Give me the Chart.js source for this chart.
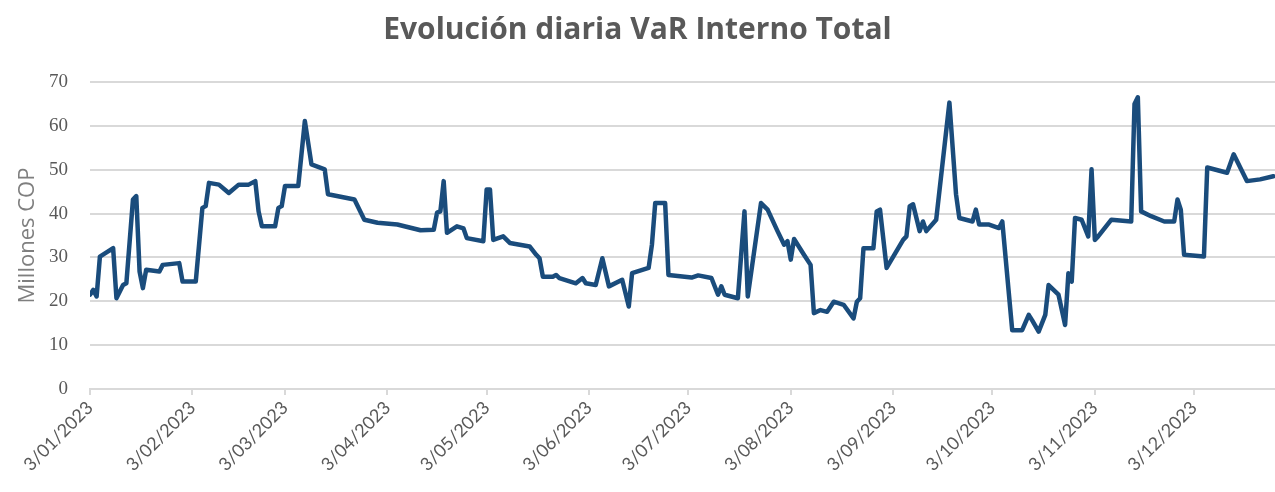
<!DOCTYPE html>
<html lang="es">
<head>
<meta charset="utf-8">
<title>Evolución diaria VaR Interno Total</title>
<script src="https://cdn.jsdelivr.net/npm/chart.js@4.4.0/dist/chart.umd.min.js"></script>
<style>
    html, body { margin: 0; padding: 0; background: #ffffff; }
    #wrap { width: 1275px; height: 492px; }
</style>
</head>
<body>
<div id="wrap"><canvas id="varChart"></canvas></div>
<script>
// ── Datos ────────────────────────────────────────────────────
// Días transcurridos desde el 3/01/2023 y VaR (millones COP)
const dias = [
    0, 1, 2, 3, 7, 8, 10, 11, 13, 14, 15, 16, 17, 21, 22, 27, 28, 32, 34, 35,
    36, 39, 42, 45, 48, 50, 51, 52, 56, 57, 58, 59, 63, 65, 67, 71, 72, 80, 83, 87,
    93, 100, 104, 105, 106, 107, 108, 111, 113, 114, 119, 120, 121, 122, 125, 127, 133, 135, 136, 137,
    140, 141, 142, 147, 149, 150, 153, 155, 157, 161, 163, 164, 169, 170, 171, 174, 175, 182, 184, 188,
    190, 191, 192, 196, 198, 199, 203, 205, 208, 210, 211, 212, 213, 216, 218, 219, 221, 223, 225, 228,
    231, 232, 233, 234, 237, 238, 239, 241, 246, 247, 248, 249, 251, 252, 253, 256, 260, 262, 263, 267,
    268, 269, 272, 275, 276, 279, 282, 284, 285, 287, 289, 290, 293, 295, 296, 297, 298, 300, 302, 303,
    304, 305, 309, 315, 316, 317, 318, 321, 325, 328, 329, 330, 331, 337, 338, 344, 346, 350, 354, 358
];
const varInterno = [
    21.5, 22.6, 21.1, 30.2, 32.1, 20.7, 23.7, 24.1, 43.2, 44.0, 26.8, 23.0, 27.2, 26.8, 28.3, 28.7, 24.5, 24.5, 41.3, 41.7,
    47.0, 46.6, 44.7, 46.6, 46.6, 47.4, 40.5, 37.1, 37.1, 41.3, 41.7, 46.3, 46.3, 61.1, 51.2, 50.1, 44.4, 43.2, 38.6, 37.9,
    37.5, 36.2, 36.3, 40.2, 40.5, 47.4, 35.6, 37.1, 36.6, 34.4, 33.7, 45.5, 45.5, 34.0, 34.8, 33.3, 32.5, 30.6, 29.8, 25.6,
    25.6, 26.0, 25.3, 24.1, 25.3, 24.1, 23.7, 29.8, 23.4, 24.9, 18.8, 26.4, 27.6, 32.9, 42.4, 42.4, 26.0, 25.4, 25.9, 25.3,
    21.5, 23.4, 21.5, 20.7, 40.5, 21.1, 42.4, 40.9, 36.0, 32.9, 33.7, 29.5, 34.2, 30.6, 28.3, 17.3, 18.0, 17.6, 19.9, 19.2,
    16.1, 19.9, 20.7, 32.1, 32.1, 40.5, 40.9, 27.6, 34.0, 34.8, 41.7, 42.1, 36.0, 38.2, 36.0, 38.6, 65.3, 44.4, 39.0, 38.2,
    40.9, 37.5, 37.5, 36.7, 38.2, 13.4, 13.4, 16.9, 15.7, 13.1, 16.9, 23.7, 21.5, 14.6, 26.4, 24.5, 39.0, 38.6, 34.8, 50.1,
    34.0, 34.8, 38.6, 38.2, 65.0, 66.5, 40.5, 39.4, 38.2, 38.2, 43.2, 40.9, 30.6, 30.2, 50.5, 49.3, 53.5, 47.4, 47.8, 48.5
];

// Marcas del eje X (día 3 de cada mes)
const diasMes = [0, 31, 59, 90, 120, 151, 181, 212, 243, 273, 304, 334];
const etiquetasMes = [
    '3/01/2023', '3/02/2023', '3/03/2023', '3/04/2023', '3/05/2023', '3/06/2023',
    '3/07/2023', '3/08/2023', '3/09/2023', '3/10/2023', '3/11/2023', '3/12/2023'
];
const ticksY = [0, 10, 20, 30, 40, 50, 60, 70];

const GRIS_TEXTO = '#595959';
const GRIS_GRID  = '#d9d9d9';

// ── Gráfico ──────────────────────────────────────────────────
new Chart(document.getElementById('varChart'), {
    type: 'line',
    data: {
        datasets: [{
            label: 'VaR Interno Total',
            data: dias.map((d, i) => ({ x: d, y: varInterno[i] })),
            borderColor: '#1a4c7c',
            borderWidth: 4.5,
            pointRadius: 0,
            tension: 0,
            borderJoinStyle: 'round',
            borderCapStyle: 'round'
        }]
    },
    options: {
        responsive: true,
        maintainAspectRatio: false,
        animation: false,
        layout: { padding: { left: 0, right: 0, top: 0, bottom: 0 } },
        plugins: {
            legend: { display: false },
            tooltip: { enabled: false },
            title: {
                display: true,
                text: 'Evolución diaria VaR Interno Total',
                color: GRIS_TEXTO,
                font: { family: 'Open Sans', size: 30, weight: 'bold' },
                padding: { top: 12, bottom: 34 }
            }
        },
        scales: {
            x: {
                type: 'linear',
                min: 0,
                max: 358.5,
                afterBuildTicks: (scale) => {
                    scale.ticks = diasMes.map(v => ({ value: v }));
                },
                afterFit: (scale) => { scale.height = 103; },
                ticks: {
                    autoSkip: false,
                    minRotation: 45,
                    maxRotation: 45,
                    padding: 2,
                    color: GRIS_TEXTO,
                    font: { family: 'Lato', size: 18 },
                    callback: (v) => etiquetasMes[diasMes.indexOf(v)]
                },
                grid: {
                    drawOnChartArea: false,
                    color: GRIS_GRID,
                    lineWidth: 2,
                    tickLength: 6
                },
                border: { display: true, color: GRIS_GRID, width: 2 }
            },
            y: {
                min: 0,
                max: 70,
                afterBuildTicks: (scale) => {
                    scale.ticks = ticksY.map(v => ({ value: v }));
                },
                afterFit: (scale) => { scale.width = 90; },
                ticks: {
                    padding: 22,
                    color: GRIS_TEXTO,
                    font: { family: 'Liberation Sans Narrow', size: 19 }
                },
                grid: {
                    color: GRIS_GRID,
                    lineWidth: 2,
                    drawTicks: false
                },
                border: { display: false },
                title: {
                    display: true,
                    text: 'Millones COP',
                    color: '#7f7f7f',
                    font: { family: 'Open Sans', size: 22 },
                    padding: { top: 15, bottom: 0 }
                }
            }
        }
    }
});
</script>
</body>
</html>
